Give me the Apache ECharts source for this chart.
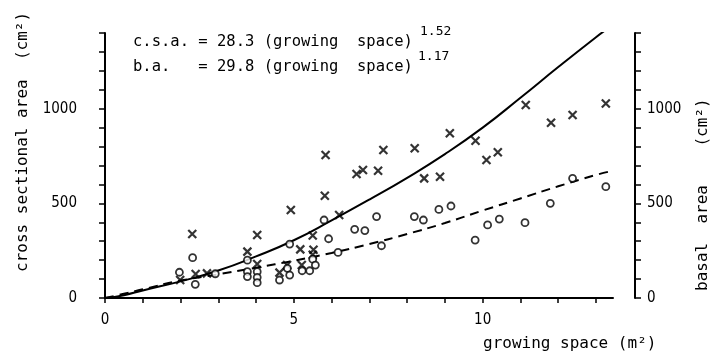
<!DOCTYPE html>
<html><head><meta charset="utf-8">
<script src="https://cdn.jsdelivr.net/npm/echarts@6/dist/echarts.min.js"></script>
<style>html,body{margin:0;padding:0;background:#fff}#c{width:712px;height:356px}</style>
</head><body><div id="c"></div>
<script>
// growing space (m2), cross sectional area (cm2) — crosses
const csaPoints = [[1.99,95],[2.31,338],[2.40,127],[2.70,130],[3.77,245],[4.03,333],[4.03,180],[4.62,134],[4.82,174],[4.92,465],[5.17,257],[5.21,174],[5.50,330],[5.52,255],[5.50,228],[5.82,540],[5.84,755],[6.20,438],[6.66,655],[6.83,676],[7.23,672],[7.37,782],[8.20,791],[8.45,632],[8.87,641],[9.13,870],[9.81,831],[10.10,729],[10.40,770],[11.14,1020],[11.81,926],[12.38,967],[13.26,1028]];
// growing space (m2), basal area (cm2) — circles
const baPoints = [[1.97,136],[2.32,213],[2.39,72],[2.92,128],[3.77,200],[3.77,139],[3.77,113],[4.03,139],[4.03,109],[4.03,81],[4.62,95],[4.83,157],[4.89,121],[4.89,285],[5.22,144],[5.42,144],[5.50,205],[5.57,174],[5.80,412],[5.92,313],[6.17,241],[6.61,363],[6.88,356],[7.19,430],[7.32,276],[8.19,430],[8.43,412],[8.84,468],[9.16,486],[9.80,306],[10.13,386],[10.44,417],[11.12,398],[11.79,500],[12.38,632],[13.26,588]];
// fitted curves
const csaFit = [[0,0],[0.5,15],[1,40],[2,88],[3,145],[4,220],[5,305],[6,410],[7,520],[8,635],[9,760],[10,900],[11,1058],[12,1220],[13,1378],[13.3,1422]];
const baFit = [[0,0],[0.5,22],[1,46],[2,92],[3,125],[4,160],[5,197],[6,238],[7,285],[8,338],[9,396],[10,462],[11,526],[12,590],[13,650],[13.33,667]];
const xTickValues = [0,1,2,3,4,5,6,7,8,9,10,11,12,13];
const xLabelValues = [0,5,10];
const yTickValues = [0,100,200,300,400,500,600,700,800,900,1000,1100,1200,1300,1400];
const yLabelValues = [0,500,1000];
const eqLines = ['c.s.a. = 28.3 (growing  space)', 'b.a.   = 29.8 (growing  space)'];
const eqExponents = ['1.52', '1.17'];

const MONO = '"DejaVu Sans Mono", "Liberation Mono", monospace';
const NUM = '"DejaVu Sans Condensed", "DejaVu Sans", sans-serif';

const chart = echarts.init(document.getElementById('c'), null, {renderer: 'canvas'});

function yAxisCfg(pos, offset, margin) {
  return {
    type: 'value', position: pos, offset: offset, min: 0, max: 1400, interval: 100,
    splitLine: {show: false},
    axisLine: {show: true, lineStyle: {color: '#000', width: 2}},
    axisTick: {show: true, length: 6, lineStyle: {color: '#000', width: 1.5}, customValues: yTickValues},
    axisLabel: {show: true, color: '#000', fontFamily: NUM, fontSize: 15, margin: margin,
      customValues: yLabelValues,
      formatter: v => (yLabelValues.indexOf(v) >= 0 ? String(v) : '')}
  };
}

chart.setOption({
  animation: false,
  backgroundColor: '#fff',
  grid: {left: 105, right: 99, top: 33, bottom: 58, containLabel: false},
  xAxis: {
    type: 'value', min: 0, max: 13.45, interval: 1,
    splitLine: {show: false},
    axisLine: {show: true, onZero: false, lineStyle: {color: '#000', width: 2}},
    axisTick: {show: true, length: 5, lineStyle: {color: '#000', width: 1.5}, customValues: xTickValues},
    axisLabel: {color: '#000', fontFamily: NUM, fontSize: 15, margin: 15,
      customValues: xLabelValues,
      formatter: v => (xLabelValues.indexOf(v) >= 0 ? String(v) : '')}
  },
  yAxis: [yAxisCfg('left', 18, 10), yAxisCfg('right', 22, 12)],
  series: [
    {type: 'line', data: csaFit, yAxisIndex: 0, smooth: 0.5, showSymbol: false, symbol: 'none',
     lineStyle: {color: '#000', width: 2}, z: 2},
    {type: 'line', data: baFit, yAxisIndex: 1, smooth: 0.5, showSymbol: false, symbol: 'none',
     lineStyle: {color: '#000', width: 2, type: [9, 6]}, z: 2},
    {type: 'scatter', data: csaPoints, yAxisIndex: 0, symbol: 'path://M0 0L10 10M10 0L0 10',
     symbolSize: 8, itemStyle: {color: 'rgba(0,0,0,0)', borderColor: '#000', borderWidth: 2.2}, z: 3},
    {type: 'scatter', data: baPoints, yAxisIndex: 1, symbol: 'circle',
     symbolSize: 7, itemStyle: {color: '#fff', borderColor: '#000', borderWidth: 1.8}, z: 3}
  ],
  graphic: [
    {type: 'text', x: 133, y: 42, style: {text: eqLines[0], font: '15.5px ' + MONO, fill: '#000', align: 'left', verticalAlign: 'middle'}},
    {type: 'text', x: 420, y: 32, style: {text: eqExponents[0], font: '13px ' + MONO, fill: '#000', align: 'left', verticalAlign: 'middle'}},
    {type: 'text', x: 133, y: 67, style: {text: eqLines[1], font: '15.5px ' + MONO, fill: '#000', align: 'left', verticalAlign: 'middle'}},
    {type: 'text', x: 418, y: 57, style: {text: eqExponents[1], font: '13px ' + MONO, fill: '#000', align: 'left', verticalAlign: 'middle'}},
    {type: 'text', x: 23, y: 272, rotation: Math.PI / 2, style: {text: 'cross sectional area  (cm²)', font: '16px ' + MONO, fill: '#000', align: 'left', verticalAlign: 'middle'}},
    {type: 'text', x: 703, y: 291, rotation: Math.PI / 2, style: {text: 'basal  area    (cm²)', font: '16px ' + MONO, fill: '#000', align: 'left', verticalAlign: 'middle'}},
    {type: 'text', x: 483, y: 344, style: {text: 'growing space (m²)', font: '16px ' + MONO, fill: '#000', align: 'left', verticalAlign: 'middle'}}
  ]
});
</script>
</body></html>
